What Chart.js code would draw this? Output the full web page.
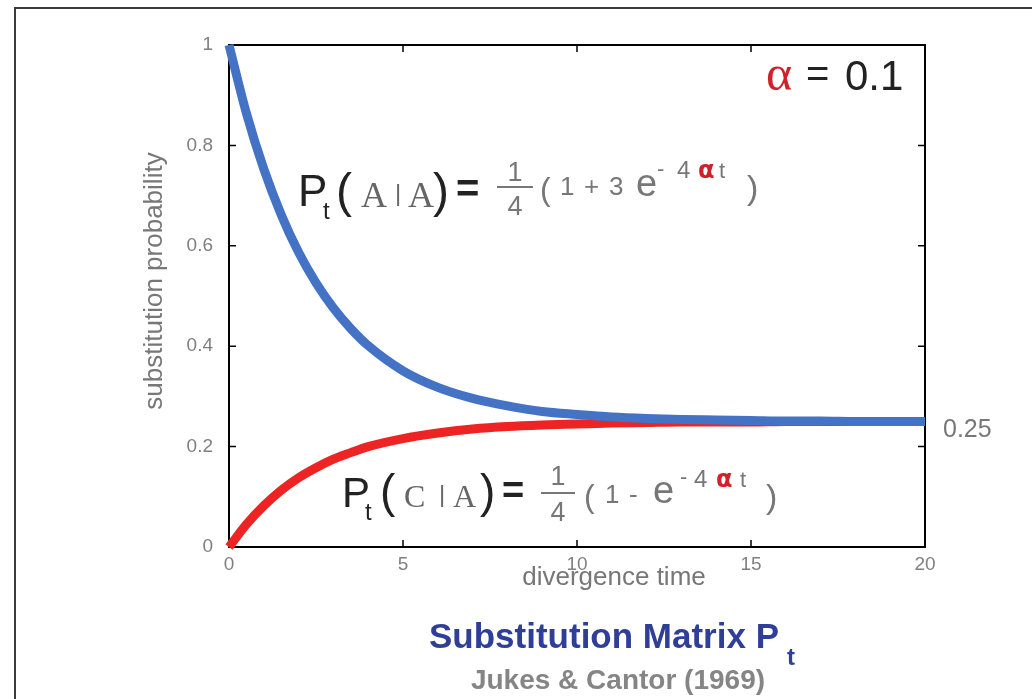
<!DOCTYPE html>
<html>
<head>
<meta charset="utf-8">
<title>Substitution Matrix</title>
<script src="https://cdn.jsdelivr.net/npm/chart.js@4.4.1/dist/chart.umd.min.js"></script>
<style>
  html, body { margin: 0; padding: 0; background: #fff; }
  #wrap { width: 1032px; height: 699px; position: relative; }
</style>
</head>
<body>
<div id="wrap"><canvas id="jcChart"></canvas></div>
<script>
// divergence time points
const times = [0, 0.5, 1, 1.5, 2, 2.5, 3, 3.5, 4, 5, 6, 7, 8, 9, 10, 11, 12, 13, 14, 15, 16, 17, 18, 19, 20];
// P(A|A) - probability of staying the same
const sameBase = [1.0, 0.864, 0.753, 0.662, 0.587, 0.526, 0.476, 0.435, 0.401, 0.351, 0.318, 0.296, 0.281, 0.270, 0.264, 0.259, 0.256, 0.254, 0.253, 0.252, 0.251, 0.251, 0.250, 0.250, 0.250];
// P(C|A) - probability of change to one other base
const otherBase = [0.0, 0.045, 0.082, 0.113, 0.138, 0.158, 0.175, 0.188, 0.200, 0.216, 0.227, 0.235, 0.240, 0.243, 0.245, 0.247, 0.248, 0.249, 0.249, 0.249, 0.250, 0.250, 0.250, 0.250, 0.250];

const xTicks = [0, 5, 10, 15, 20];
const yTicks = [0, 0.2, 0.4, 0.6, 0.8, 1];

const SANS = '"Liberation Sans", Arial, Helvetica, sans-serif';
const SERIF = '"Liberation Serif", "Times New Roman", serif';
const GREY = '#777777';
const DARK = '#222222';
const RED_A = '#d0202c';

function pts(ys) {
    return times.map((t, i) => ({ x: t, y: ys[i] }));
}

// draw a list of text pieces: [text, font, color, x, baseline]
function drawPieces(ctx, pieces) {
    ctx.textAlign = 'left';
    ctx.textBaseline = 'alphabetic';
    pieces.forEach(p => {
        ctx.font = p[1];
        ctx.fillStyle = p[2];
        ctx.fillText(p[0], p[3], p[4]);
    });
}

function fraction(ctx, cx, y1, yLine, y4, half, size) {
    ctx.font = size + 'px ' + SANS;
    ctx.fillStyle = GREY;
    ctx.textAlign = 'center';
    ctx.fillText('1', cx, y1);
    ctx.fillText('4', cx, y4);
    ctx.strokeStyle = GREY;
    ctx.lineWidth = 2;
    ctx.beginPath();
    ctx.moveTo(cx - half, yLine);
    ctx.lineTo(cx + half, yLine);
    ctx.stroke();
    ctx.textAlign = 'left';
}

// box round the plot with ticks on all four sides
const boxPlugin = {
    id: 'boxPlugin',
    beforeDatasetsDraw(chart) {
        const { ctx, chartArea: a, scales } = chart;
        ctx.save();
        ctx.strokeStyle = '#000';
        ctx.lineWidth = 2;
        ctx.strokeRect(a.left, a.top, a.right - a.left, a.bottom - a.top);
        ctx.lineWidth = 1.5;
        ctx.beginPath();
        xTicks.forEach(v => {
            const px = scales.x.getPixelForValue(v);
            ctx.moveTo(px, a.bottom); ctx.lineTo(px, a.bottom - 7);
            ctx.moveTo(px, a.top); ctx.lineTo(px, a.top + 7);
        });
        yTicks.forEach(v => {
            const py = scales.y.getPixelForValue(v);
            ctx.moveTo(a.left, py); ctx.lineTo(a.left + 7, py);
            ctx.moveTo(a.right, py); ctx.lineTo(a.right - 7, py);
        });
        ctx.stroke();
        ctx.restore();
    },
    afterDraw(chart) {
        const { ctx, chartArea: a, scales } = chart;
        ctx.save();

        // outer frame
        ctx.strokeStyle = '#3a3a3a';
        ctx.lineWidth = 2;
        ctx.beginPath();
        ctx.moveTo(15, 720); ctx.lineTo(15, 8); ctx.lineTo(1040, 8);
        ctx.stroke();

        // axis titles
        ctx.fillStyle = GREY;
        ctx.font = '26px ' + SANS;
        ctx.textAlign = 'center';
        ctx.textBaseline = 'middle';
        ctx.fillText('divergence time', 614, 578);
        ctx.save();
        ctx.translate(155, 281);
        ctx.rotate(-Math.PI / 2);
        ctx.fillText('substitution probability', 0, 0);
        ctx.restore();

        // plateau value at the right side
        ctx.textAlign = 'left';
        ctx.font = '25px ' + SANS;
        ctx.fillText('0.25', 943, scales.y.getPixelForValue(0.25) + 9);

        // alpha = 0.1
        drawPieces(ctx, [
            ['\u03B1', '50px ' + SERIF, RED_A, 766, 90],
            ['=', '40px ' + SANS, DARK, 806, 87],
            ['0.1', '42px ' + SANS, DARK, 845, 90]
        ]);

        // P_t(A|A) = 1/4 (1 + 3 e^-4at)
        drawPieces(ctx, [
            ['P', '44px ' + SANS, DARK, 298, 206],
            ['t', '24px ' + SANS, DARK, 323, 219],
            ['(', '48px ' + SANS, DARK, 336, 207],
            ['A', '36px ' + SERIF, '#666', 361, 207],
            ['|', '24px ' + SANS, '#666', 395, 201],
            ['A', '36px ' + SERIF, '#666', 408, 207],
            [')', '48px ' + SANS, DARK, 433, 207],
            ['=', 'bold 40px ' + SANS, DARK, 456, 202],
            ['(', '32px ' + SANS, GREY, 540, 200],
            ['1', '26px ' + SANS, GREY, 560, 195],
            ['+', '26px ' + SANS, GREY, 584, 195],
            ['3', '26px ' + SANS, GREY, 609, 195],
            ['e', '38px ' + SANS, GREY, 636, 196],
            ['-', '22px ' + SANS, GREY, 657, 176],
            ['4', '24px ' + SANS, GREY, 677, 178],
            ['\u03B1', 'bold 24px "DejaVu Sans", sans-serif', RED_A, 698, 178],
            ['t', '22px ' + SANS, GREY, 719, 178],
            [')', '34px ' + SANS, GREY, 747, 199]
        ]);
        fraction(ctx, 515, 181, 187, 215, 18, 27);

        // P_t(C|A) = 1/4 (1 - e^-4at)
        drawPieces(ctx, [
            ['P', '42px ' + SANS, DARK, 342, 507],
            ['t', '24px ' + SANS, DARK, 365, 520],
            ['(', '46px ' + SANS, DARK, 380, 507],
            ['C', '32px ' + SERIF, '#666', 404, 507],
            ['|', '24px ' + SANS, '#666', 439, 502],
            ['A', '32px ' + SERIF, '#666', 453, 507],
            [')', '46px ' + SANS, DARK, 480, 507],
            ['=', 'bold 38px ' + SANS, DARK, 502, 503],
            ['(', '32px ' + SANS, GREY, 584, 507],
            ['1', '26px ' + SANS, GREY, 605, 503],
            ['-', '26px ' + SANS, GREY, 629, 503],
            ['e', '38px ' + SANS, GREY, 653, 503],
            ['-', '22px ' + SANS, GREY, 680, 484],
            ['4', '24px ' + SANS, GREY, 694, 487],
            ['\u03B1', 'bold 24px "DejaVu Sans", sans-serif', RED_A, 716, 487],
            ['t', '22px ' + SANS, GREY, 740, 487],
            [')', '34px ' + SANS, GREY, 766, 508]
        ]);
        fraction(ctx, 558, 485, 493, 521, 17, 27);

        // title
        ctx.textBaseline = 'alphabetic';
        ctx.fillStyle = '#2f3f97';
        ctx.font = 'bold 35px ' + SANS;
        ctx.textAlign = 'right';
        ctx.fillText('Substitution Matrix P', 779, 648);
        ctx.textAlign = 'left';
        ctx.font = 'bold 24px ' + SANS;
        ctx.fillText('t', 787, 665);
        ctx.fillStyle = '#858585';
        ctx.font = 'bold 28px ' + SANS;
        ctx.textAlign = 'center';
        ctx.fillText('Jukes & Cantor (1969)', 618, 689);

        ctx.restore();
    }
};

const chart = new Chart(document.getElementById('jcChart'), {
    type: 'line',
    data: {
        datasets: [
            {
                label: 'P(A|A)',
                data: pts(sameBase),
                borderColor: '#4472c4',
                borderWidth: 9,
                pointRadius: 0,
                cubicInterpolationMode: 'monotone',
                clip: false,
                order: 0
            },
            {
                label: 'P(C|A)',
                data: pts(otherBase),
                borderColor: '#ee2323',
                borderWidth: 9,
                pointRadius: 0,
                cubicInterpolationMode: 'monotone',
                clip: false,
                order: 1
            }
        ]
    },
    options: {
        responsive: true,
        maintainAspectRatio: false,
        animation: false,
        layout: { padding: { top: 45, right: 107, left: 0, bottom: 0 } },
        plugins: {
            legend: { display: false },
            tooltip: { enabled: false }
        },
        scales: {
            x: {
                type: 'linear',
                min: 0,
                max: 20,
                afterFit: s => { s.height = 152; },
                grid: { display: false, drawTicks: false },
                border: { display: false },
                ticks: {
                    stepSize: 5,
                    padding: 6,
                    color: '#808080',
                    font: { family: SANS, size: 19 },
                    maxRotation: 0
                }
            },
            y: {
                type: 'linear',
                min: 0,
                max: 1,
                afterFit: s => { s.width = 229; },
                grid: { display: false, drawTicks: false },
                border: { display: false },
                ticks: {
                    stepSize: 0.2,
                    padding: 16,
                    color: '#808080',
                    font: { family: SANS, size: 19 },
                    callback: v => String(Number(v.toFixed(1)))
                }
            }
        }
    },
    plugins: [boxPlugin]
});
</script>
</body>
</html>
